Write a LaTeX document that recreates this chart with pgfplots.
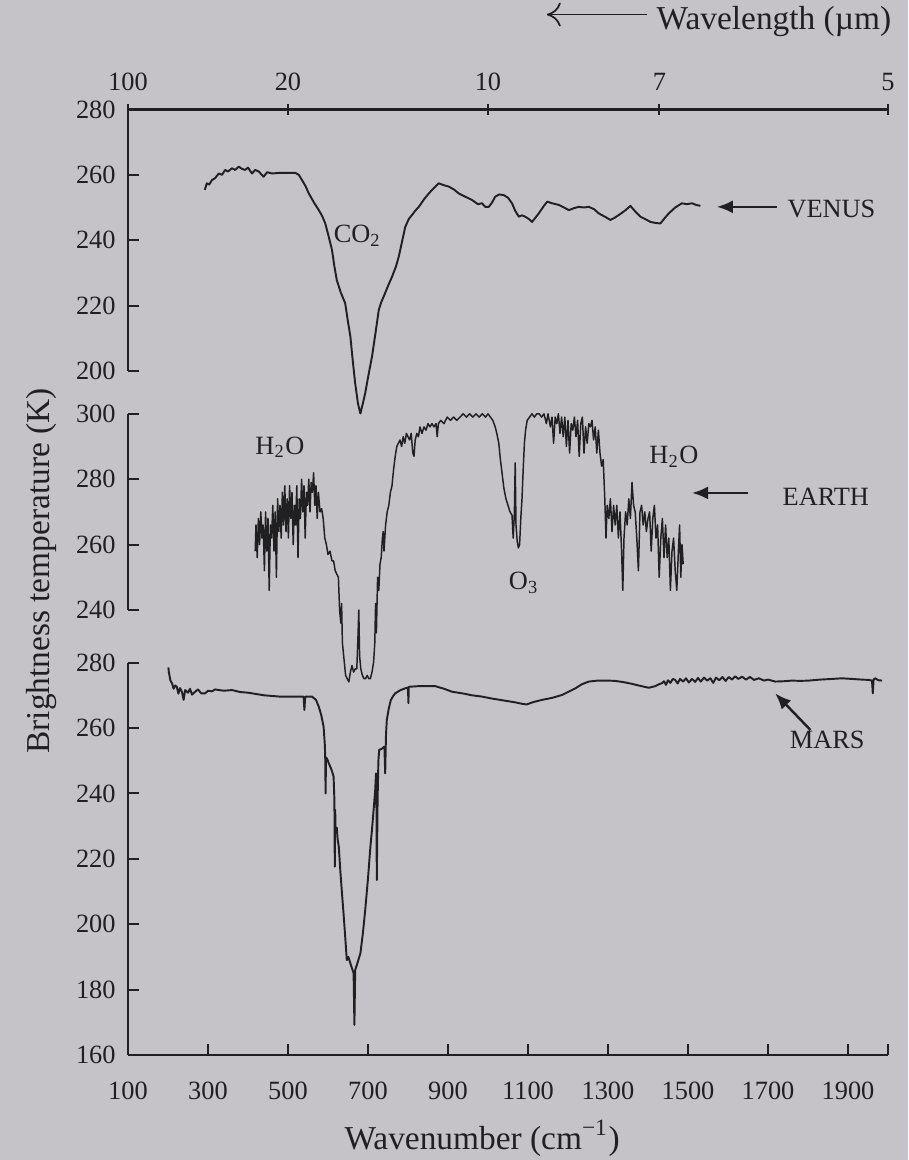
\documentclass[border=0pt]{standalone}
\usepackage{fontspec}
\setmainfont{Liberation Serif}
\usepackage{pgfplots}
\pgfplotsset{compat=1.18}
\usetikzlibrary{arrows.meta}

\definecolor{paper}{RGB}{197,195,200}
\definecolor{ink}{RGB}{32,32,34}

\pgfplotsset{
  panel/.style={
    scale only axis, width=76mm, xmin=100, xmax=2000,
    anchor=south west, clip=false,
    axis y line*=left,
    axis line style={ink, line width=0.75pt, -},
    ytick align=inside,
    major tick length=1.1mm,
    tick style={ink, line width=0.6pt},
    tick label style={font=\fontsize{7.5}{9}\selectfont, text=ink},
    /pgf/number format/assume math mode=true,
  },
  trace/.style={ink, line width=0.55pt, line join=round, mark=none},
}
\tikzset{note/.style={font=\fontsize{7.5}{9}\selectfont, text=ink, inner sep=0pt}}

\begin{document}
\begin{tikzpicture}
\fill[paper] (0,0) rectangle (90.8mm,116mm);

% Venus (top panel, wavelength axis on top)
\begin{axis}[panel, at={(12.8mm,78.9mm)}, height=26.16mm,
  ymin=200, ymax=280, ytick={200,220,240,260,280},
  axis x line*=top, xtick={100,500,1000,1428.57,2000},
  xticklabels={100,20,10,7,5}, xtick align=center,
  xticklabel style={yshift=0.1mm}]
\addplot[trace] coordinates {
(292,255.4) (297,257.4) (303,257) (310,258.4) (318,259) (327,260.4) (335,260)
(343,261.5) (350,261) (360,262) (368,261.5) (377,262.5) (385,261.8) (393,261.5)
(400,262.2) (410,260.4) (418,261.5) (427,261) (433,260.2) (439,259.4) (448,260.8)
(460,260.4) (480,260.6) (500,260.6) (518,260.6) (527,260) (535,258.4) (544,256.5)
(552,254.3) (565,251.5) (577,249.2) (585,247.5) (593,245.2) (602,241) (610,237)
(616,232) (622,227.8) (632,224) (643,220.7) (650,215) (656,210.5) (662,203)
(668,196.2) (675,190) (681,187) (687,190) (693,193.2) (700,198) (710,204.4)
(718,211) (727,218.7) (733,221) (739,222.7) (750,226) (760,228.8) (770,232)
(777,235) (785,239.5) (793,244) (802,246.5) (810,247.7) (818,249) (827,250.2)
(840,252.5) (852,254.3) (865,256) (877,257.4) (890,256.8) (902,256.4) (915,255.5)
(927,254.3) (940,253.5) (960,252.3) (975,251) (985,251.3) (993,250.2) (1002,250.2)
(1010,251.5) (1018,253.3) (1028,254) (1039,253.8) (1050,253) (1060,251.3)
(1068,249) (1077,247.2) (1085,247.6) (1093,247.2) (1102,246.5) (1110,245.6)
(1118,246.8) (1127,248.2) (1138,250.2) (1148,251.8) (1160,251.3) (1177,250.8)
(1190,250) (1202,249.2) (1215,249.8) (1227,250.2) (1240,250) (1252,250.2)
(1265,249.5) (1277,248.2) (1292,247.2) (1306,246.2) (1316,246.8) (1327,247.7)
(1342,249) (1356,250.5) (1368,248.8) (1381,247.2) (1394,246.4) (1406,245.6)
(1418,245.3) (1431,245.1) (1440,246.5) (1452,248.2) (1468,250) (1485,251.3)
(1497,251) (1510,251.3) (1520,250.8) (1531,250.5)
};
\node[note] at (axis cs:674,241.3) {CO\textsubscript{2}};
\draw[ink, line width=0.7pt, -{Latex[length=1.6mm,width=1.3mm]}] (axis cs:1722,250.2) -- (axis cs:1572,250.2);
\node[note, anchor=west] at (axis cs:1747,249.4) {VENUS};
\draw[ink, line width=0.5pt, -{To[length=1.4mm,width=2.4mm]}] (axis cs:1397,309) -- (axis cs:1147,309);
\node[font=\fontsize{9.5}{11}\selectfont, text=ink, anchor=west, inner sep=0pt] at (axis cs:1420,306.8) {Wavelength (µm)};
\end{axis}

% Earth (middle panel)
\begin{axis}[panel, at={(12.8mm,55mm)}, height=19.62mm,
  ymin=240, ymax=300, ytick={240,260,280,300}, axis x line=none]
\addplot[trace, line width=0.42pt] coordinates {
(418,258) (420,266) (423,256) (426,268) (429,260) (432,270) (435,262) (438,266)
(441,252) (444,270) (447,258) (450,268) (453,246) (456,266) (459,262) (462,272)
(465,258) (468,270) (471,250) (474,274) (477,264) (480,272) (483,262) (486,276)
(489,266) (492,278) (495,264) (498,274) (501,262) (504,278) (507,268) (510,276)
(513,260) (516,272) (519,266) (522,278) (525,256) (528,274) (531,268) (534,280)
(537,270) (540,278) (543,262) (546,276) (549,272) (552,280) (555,270) (558,279)
(561,276) (564,282) (567,272) (570,278) (573,268) (576,276) (580,270) (584,271)
(588,268) (592,262) (596,260) (600,257) (605,258) (610,255) (614,255) (618,252)
(622,251) (626,250) (629,240) (632,236) (634,242) (636,230) (640,225) (644,220)
(648,219) (652,218) (656,221) (660,223) (664,221) (668,222) (672,222) (675,232)
(677,240) (679,226) (682,222) (686,220) (690,219) (694,219) (698,220) (702,219)
(706,219) (710,221) (714,224) (717,230) (719,242) (721,233) (724,250) (727,246)
(730,254) (733,256) (736,262) (738,264) (740,258) (742,262) (744,266) (748,270)
(752,272) (756,276) (760,278) (764,283) (768,287) (772,290) (776,291) (780,292)
(784,290) (788,293) (792,291) (796,294) (800,293) (804,292) (808,294) (812,288)
(815,287) (818,292) (822,294) (826,293) (830,296) (835,294) (840,296) (845,295)
(850,297) (855,296) (860,297) (865,296) (870,297) (873,293) (876,297) (882,298)
(890,297) (898,299) (906,298) (914,299) (922,298) (930,299) (938,300) (946,299)
(954,300) (962,299) (970,300) (978,299) (986,300) (994,299) (1000,300) (1006,299)
(1012,298) (1018,296) (1022,294) (1027,291) (1031,286) (1035,282) (1040,277)
(1045,274) (1050,272) (1055,270) (1060,269) (1063,262) (1066,270) (1068,285)
(1070,266) (1073,261) (1076,259) (1079,260) (1082,268) (1085,274) (1088,283)
(1091,291) (1094,295) (1098,298) (1104,299) (1110,300) (1116,299) (1122,300)
(1128,300) (1134,299) (1140,300) (1146,297) (1150,300) (1156,296) (1160,299)
(1164,291) (1168,299) (1172,297) (1176,300) (1180,294) (1184,299) (1188,293)
(1192,299) (1196,290) (1200,298) (1204,288) (1208,297) (1212,295) (1216,299)
(1220,293) (1224,298) (1228,287) (1232,297) (1236,299) (1240,288) (1244,296)
(1248,291) (1252,297) (1256,296) (1260,298) (1264,292) (1268,296) (1272,288)
(1276,295) (1280,288) (1284,284) (1288,286) (1292,274) (1295,262) (1298,272)
(1302,268) (1306,274) (1310,264) (1314,272) (1318,266) (1322,272) (1326,262)
(1330,270) (1334,258) (1337,246) (1340,262) (1344,270) (1348,266) (1352,274)
(1356,268) (1360,279) (1364,272) (1368,270) (1372,262) (1376,252) (1380,270)
(1384,272) (1388,266) (1392,270) (1396,264) (1400,268) (1404,270) (1408,258)
(1412,268) (1416,272) (1420,262) (1424,266) (1428,250) (1432,262) (1436,268)
(1440,256) (1444,266) (1448,256) (1452,262) (1456,246) (1460,258) (1464,262)
(1468,252) (1472,246) (1476,258) (1479,266) (1482,250) (1485,260) (1488,254)
};
\node[note] at (axis cs:480,289.8) {H\textsubscript{2}O};
\node[note] at (axis cs:1465,286.8) {H\textsubscript{2}O};
\node[note] at (axis cs:1090,248.3) {O\textsubscript{3}};
\draw[ink, line width=0.7pt, -{Latex[length=1.6mm,width=1.3mm]}] (axis cs:1650,275.8) -- (axis cs:1510,275.8);
\node[note, anchor=west] at (axis cs:1735,274.6) {EARTH};
\end{axis}

% Mars (bottom panel)
\begin{axis}[panel, at={(12.8mm,10.5mm)}, height=39.24mm,
  ymin=160, ymax=280, ytick={160,180,200,220,240,260,280},
  axis x line*=bottom, xtick align=inside,
  xtick={100,300,500,700,900,1100,1300,1500,1700,1900,2000},
  xticklabels={100,300,500,700,900,1100,1300,1500,1700,1900,{}},
  xticklabel style={yshift=-1.5mm},
  xlabel={Wavenumber (cm\textsuperscript{−1})},
  xlabel style={font=\fontsize{9.5}{11}\selectfont, text=ink,
    at={(axis description cs:0.466,0)}, anchor=north, yshift=-5.3mm}]
\addplot[trace] coordinates {
(201,278.5) (202,277.2) (206,274.5) (210,273.7) (214,272) (218,273) (222,272.6)
(226,270.5) (230,272.2) (235,271) (239,268.6) (243,271.6) (250,270.8) (255,272)
(260,270.2) (268,271.1) (275,271.8) (283,270.6) (293,270.6) (300,271.4)
(310,271.2) (318,271.8) (327,271.6) (340,271.4) (360,271.6) (380,271) (400,270.8)
(420,270.4) (440,270) (460,269.8) (480,269.6) (510,269.6) (530,269.6) (539,269.6)
(541,265.5) (543,269.6) (560,269.6) (570,268.6) (577,266.5) (583,264) (589,260.4)
(592,255) (593,251.2) (594,240) (595,251) (598,250.5) (602,249.2) (608,247.5)
(612,246) (614,245.1) (616,238) (617,217.6) (618,235) (619,228.8) (622,229.5)
(624,226) (627,223.7) (631,216) (635,209.4) (639,203) (643,196.2) (647,189)
(651,190) (656,188) (660,186.5) (664,185) (666,169.2) (668,186) (672,187.5)
(677,189.5) (681,191.1) (687,197) (693,204.3) (700,214) (706,223.7) (710,229)
(714,234.9) (718,241) (720,246.1) (721,240) (722,213.5) (724,238) (726,250)
(728,253.3) (734,253.6) (741,254.3) (743,246.1) (745,258) (747,262.4) (752,266)
(757,268.5) (763,269.8) (768,270.6) (780,271.5) (790,272) (800,272.4) (801,267.6)
(802,272.6) (815,272.7) (827,272.8) (850,272.8) (868,272.8) (890,272) (910,271.1)
(940,270.5) (960,270) (985,269.6) (1010,269) (1040,268.4) (1070,267.8)
(1085,267.4) (1097,267.2) (1110,267.8) (1122,268.2) (1135,268.6) (1160,269.2)
(1185,270.1) (1200,271) (1218,272.1) (1235,273.4) (1252,274.2) (1275,274.5)
(1300,274.5) (1318,274.4) (1340,274) (1360,273.5) (1380,272.9) (1402,272.3)
(1418,272.8) (1428,273.4) (1435,273.7) (1440,274.3) (1445,273.2) (1450,274.6)
(1456,273.8) (1462,275) (1468,274.7) (1474,273.6) (1480,275) (1488,274.2)
(1495,275.2) (1502,273.9) (1510,275) (1518,274.1) (1525,275.3) (1532,274.2)
(1540,275.4) (1548,274.5) (1556,275.2) (1563,273.8) (1570,275.4) (1578,274.6)
(1586,275.6) (1594,274.4) (1602,275.6) (1610,274.8) (1618,275.8) (1626,275)
(1635,275.7) (1645,274.8) (1655,275.6) (1665,274.7) (1677,275.2) (1690,274.5)
(1700,274.8) (1718,274.2) (1740,274.3) (1760,274.5) (1780,274.4) (1802,274.5)
(1830,274.8) (1860,275) (1885,275.2) (1910,275) (1935,274.8) (1952,274.7)
(1960,274.5) (1962,270.6) (1964,274.8) (1968,275.2) (1976,274.6) (1985,274.5)
};
\draw[ink, line width=0.7pt, -{Latex[length=1.6mm,width=1.3mm]}] (axis cs:1806,259.4) -- (axis cs:1718,270.6);
\node[note] at (axis cs:1848,256.3) {MARS};
\end{axis}

\node[font=\fontsize{9.5}{11}\selectfont, text=ink, rotate=90] at (4.2mm,58.9mm) {Brightness temperature (K)};

\pgfresetboundingbox
\path[use as bounding box] (0,0) rectangle (90.8mm,116mm);
\end{tikzpicture}
\end{document}
